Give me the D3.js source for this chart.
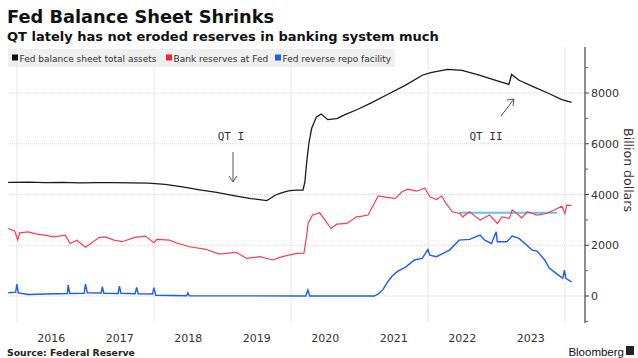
<!DOCTYPE html>
<html>
<head>
<meta charset="utf-8">
<title>Fed Balance Sheet Shrinks</title>
<script src="https://cdn.jsdelivr.net/npm/d3@7"></script>
<style>
  body { margin: 0; background: #fff; }
  svg { display: block; font-family: "DejaVu Sans", sans-serif; }
</style>
</head>
<body>
<div id="chart"></div>
<script>
// values, billion dollars
var assets = [
  ["2015-11-15", 4480], ["2016-03-01", 4490], ["2016-06-01", 4470], ["2016-09-01", 4480],
  ["2016-12-01", 4460], ["2017-03-01", 4470], ["2017-06-01", 4470], ["2017-09-01", 4460],
  ["2017-12-01", 4450], ["2018-03-01", 4400], ["2018-06-01", 4300], ["2018-09-01", 4180],
  ["2018-12-01", 4080], ["2019-03-01", 3960], ["2019-06-01", 3840], ["2019-08-25", 3760],
  ["2019-09-20", 3880], ["2019-10-10", 3980], ["2019-11-15", 4070], ["2019-12-25", 4150],
  ["2020-02-01", 4170], ["2020-03-05", 4170], ["2020-03-15", 4500], ["2020-03-25", 5300],
  ["2020-04-05", 6000], ["2020-04-20", 6600], ["2020-05-15", 7050], ["2020-06-10", 7170],
  ["2020-07-15", 6950], ["2020-09-01", 6990], ["2020-10-15", 7150], ["2020-12-20", 7350],
  ["2021-03-01", 7600], ["2021-06-01", 7950], ["2021-09-01", 8300], ["2021-12-01", 8700],
  ["2022-01-15", 8800], ["2022-04-15", 8930], ["2022-07-01", 8890], ["2022-10-01", 8700],
  ["2022-12-15", 8530], ["2023-03-08", 8340], ["2023-03-22", 8730], ["2023-05-01", 8500],
  ["2023-07-15", 8250], ["2023-10-01", 8000], ["2023-12-15", 7740], ["2024-02-05", 7630]
];

var reserves = [
  ["2015-11-15", 2660], ["2015-12-20", 2560], ["2016-01-05", 2200], ["2016-01-15", 2490],
  ["2016-03-01", 2530], ["2016-04-10", 2450], ["2016-05-25", 2400], ["2016-07-15", 2330],
  ["2016-09-15", 2400], ["2016-10-10", 2070], ["2016-11-15", 2200], ["2016-12-30", 1920],
  ["2017-01-15", 2000], ["2017-03-15", 2310], ["2017-04-15", 2330], ["2017-06-01", 2200],
  ["2017-07-15", 2140], ["2017-09-20", 2310], ["2017-11-15", 2360], ["2017-12-31", 2100],
  ["2018-01-15", 2230], ["2018-03-25", 2200], ["2018-05-01", 2090], ["2018-07-10", 1940],
  ["2018-10-05", 1840], ["2018-12-15", 1650], ["2019-03-15", 1720], ["2019-05-10", 1480],
  ["2019-07-20", 1550], ["2019-09-25", 1420], ["2019-11-15", 1550], ["2020-02-01", 1680],
  ["2020-03-10", 1690], ["2020-03-25", 2400], ["2020-04-01", 2860], ["2020-04-25", 3190],
  ["2020-06-01", 3280], ["2020-07-01", 2990], ["2020-08-01", 2660], ["2020-09-01", 2830],
  ["2020-10-25", 2860], ["2020-12-15", 3120], ["2021-01-15", 3150], ["2021-02-15", 3190],
  ["2021-03-15", 3580], ["2021-04-10", 3940], ["2021-05-25", 3890], ["2021-07-10", 3850],
  ["2021-08-15", 4110], ["2021-09-15", 4210], ["2021-11-01", 4130], ["2021-12-15", 4260],
  ["2022-01-10", 3910], ["2022-02-15", 3800], ["2022-03-15", 3940], ["2022-04-01", 3710],
  ["2022-05-10", 3320], ["2022-06-20", 3250], ["2022-07-05", 3120], ["2022-08-10", 3320],
  ["2022-10-05", 2990], ["2022-11-25", 3190], ["2023-01-05", 2860], ["2023-01-30", 3120],
  ["2023-03-10", 3060], ["2023-03-25", 3390], ["2023-04-20", 3250], ["2023-05-15", 3080],
  ["2023-06-15", 3320], ["2023-08-05", 3190], ["2023-09-25", 3250], ["2023-11-05", 3390],
  ["2023-12-15", 3540], ["2024-01-01", 3250], ["2024-01-10", 3580], ["2024-02-05", 3560]
];

var reverseRepo = [
  ["2015-11-15", 130], ["2015-12-25", 150], ["2015-12-31", 470], ["2016-01-08", 120],
  ["2016-03-01", 60], ["2016-06-01", 80], ["2016-09-25", 100], ["2016-09-30", 430],
  ["2016-10-08", 100], ["2016-12-24", 110], ["2016-12-31", 470], ["2017-01-10", 130],
  ["2017-03-25", 120], ["2017-03-31", 370], ["2017-04-08", 110], ["2017-06-23", 100],
  ["2017-06-30", 390], ["2017-07-08", 110], ["2017-09-22", 90], ["2017-09-30", 340],
  ["2017-10-08", 90], ["2017-12-24", 80], ["2017-12-31", 330], ["2018-01-10", 30],
  ["2018-06-24", 10], ["2018-06-30", 130], ["2018-07-08", 5], ["2019-06-01", 5],
  ["2020-03-20", 0], ["2020-03-31", 240], ["2020-04-10", 0], ["2021-03-20", 0],
  ["2021-04-10", 80], ["2021-05-05", 250], ["2021-05-25", 500], ["2021-06-20", 760],
  ["2021-07-20", 960], ["2021-09-05", 1150], ["2021-10-20", 1420], ["2021-12-01", 1480],
  ["2021-12-31", 1840], ["2022-01-10", 1610], ["2022-02-15", 1550], ["2022-04-25", 1810],
  ["2022-06-15", 2200], ["2022-08-10", 2230], ["2022-10-05", 2400], ["2022-10-30", 2200],
  ["2022-12-05", 2070], ["2022-12-30", 2530], ["2023-01-05", 2140], ["2023-02-25", 2140],
  ["2023-03-25", 2360], ["2023-05-01", 2270], ["2023-06-10", 2010], ["2023-07-10", 1810],
  ["2023-08-05", 1770], ["2023-09-15", 1420], ["2023-10-10", 1090], ["2023-11-15", 890],
  ["2023-12-20", 700], ["2023-12-29", 1020], ["2024-01-05", 700], ["2024-02-05", 560]
];

// flat reserves level drawn in light blue
var reservesLevel = [["2022-06-15", 3280], ["2023-11-20", 3280]];

var yearLabels = ["2016", "2017", "2018", "2019", "2020", "2021", "2022", "2023"];
var gridYears = ["2016", "2018", "2020", "2022", "2024"];
var yMajor = [0, 2000, 4000, 6000, 8000];
var yMinor = [-1000, 1000, 3000, 5000, 7000, 9000];

var legendItems = [
  {name: "Fed balance sheet total assets", color: "#111"},
  {name: "Bank reserves at Fed", color: "#ff1f2d"},
  {name: "Fed reverse repo facility", color: "#1a5cff"}
];

var W = 638, H = 358;
var parse = d3.timeParse("%Y-%m-%d");
var parseYear = d3.timeParse("%Y");

var x = d3.scaleTime()
  .domain([parseYear("2016"), parseYear("2024")])
  .range([17, 565]);
var y = d3.scaleLinear()
  .domain([0, 8000])
  .range([296, 93]);

var svg = d3.select("#chart").append("svg")
  .attr("width", W)
  .attr("height", H);

// titles
svg.append("text").attr("x", 7).attr("y", 23)
  .attr("font-size", 17.8).attr("font-weight", "bold").attr("fill", "#111")
  .text("Fed Balance Sheet Shrinks");
svg.append("text").attr("x", 7).attr("y", 41)
  .attr("font-size", 13).attr("font-weight", "bold").attr("fill", "#111")
  .text("QT lately has not eroded reserves in banking system much");

// grid
svg.append("g").selectAll("line").data(yMajor).enter().append("line")
  .attr("x1", 8).attr("x2", 585)
  .attr("y1", function(d){ return y(d); }).attr("y2", function(d){ return y(d); })
  .attr("stroke", "#d8d8d8").attr("stroke-dasharray", "1,1");
svg.append("g").selectAll("line").data(gridYears).enter().append("line")
  .attr("x1", function(d){ return x(parseYear(d)); }).attr("x2", function(d){ return x(parseYear(d)); })
  .attr("y1", 47).attr("y2", 322)
  .attr("stroke", "#e6e6e6");

// legend
svg.append("rect").attr("x", 8).attr("y", 49).attr("width", 387).attr("height", 18)
  .attr("fill", "#efefef");
var lx = [12, 166, 275];
var leg = svg.append("g").selectAll("g").data(legendItems).enter().append("g")
  .attr("transform", function(d, i){ return "translate(" + lx[i] + ",0)"; });
leg.append("rect").attr("x", 0).attr("y", 54.5).attr("width", 6).attr("height", 6)
  .attr("fill", function(d){ return d.color; });
leg.append("text").attr("x", 7.5).attr("y", 61.5)
  .attr("font-size", 9).attr("fill", "#333")
  .text(function(d){ return d.name; });

// y axis on the right
var yAxis = svg.append("g").attr("transform", "translate(585,0)");
yAxis.append("line").attr("y1", 47).attr("y2", 323).attr("stroke", "#444").attr("stroke-width", 1.2);
yAxis.selectAll(".maj").data(yMajor).enter().append("line")
  .attr("x1", 0).attr("x2", 4)
  .attr("y1", function(d){ return y(d); }).attr("y2", function(d){ return y(d); })
  .attr("stroke", "#444");
yAxis.selectAll(".min").data(yMinor).enter().append("line")
  .attr("x1", 0).attr("x2", 3)
  .attr("y1", function(d){ return y(d); }).attr("y2", function(d){ return y(d); })
  .attr("stroke", "#666");
yAxis.selectAll("text").data(yMajor).enter().append("text")
  .attr("x", 6).attr("y", function(d){ return y(d) + 4; })
  .attr("font-size", 11).attr("fill", "#333")
  .text(function(d){ return d; });
svg.append("text")
  .attr("transform", "translate(624,170) rotate(90)")
  .attr("text-anchor", "middle").attr("font-size", 12.5).attr("fill", "#333")
  .text("Billion dollars");

// x labels, centred mid-year
svg.append("g").selectAll("text").data(yearLabels).enter().append("text")
  .attr("x", function(d){ return x(parse(d + "-07-02")); })
  .attr("y", 342).attr("text-anchor", "middle")
  .attr("font-size", 11).attr("fill", "#333")
  .text(function(d){ return d; });

// series
var line = d3.line()
  .x(function(d){ return x(parse(d[0])); })
  .y(function(d){ return y(d[1]); });

svg.append("path").datum(reservesLevel).attr("d", line)
  .attr("fill", "none").attr("stroke", "#5ec4f5").attr("stroke-width", 2);
svg.append("path").datum(reverseRepo).attr("d", line)
  .attr("fill", "none").attr("stroke", legendItems[2].color).attr("stroke-width", 1.4);
svg.append("path").datum(reserves).attr("d", line)
  .attr("fill", "none").attr("stroke", "#ff3b4a").attr("stroke-width", 1.2);
svg.append("path").datum(assets).attr("d", line)
  .attr("fill", "none").attr("stroke", "#1a1a1a").attr("stroke-width", 1.3);

// annotations
var ann = svg.append("g").attr("font-family", "DejaVu Sans Mono, monospace").attr("font-size", 11).attr("fill", "#333");
ann.append("text").attr("x", 231).attr("y", 140).attr("text-anchor", "middle").text("QT I");
ann.append("text").attr("x", 486).attr("y", 140).attr("text-anchor", "middle").text("QT II");
var arrows = svg.append("g").attr("stroke", "#555").attr("fill", "none").attr("stroke-width", 1);
arrows.append("path").attr("d", "M233,152 L233,182 M229,176 L233,182 L237,176");
arrows.append("path").attr("d", "M501,116 L514,99 M507,100 L514,99 L513,106");

// footer
svg.append("text").attr("x", 7).attr("y", 356)
  .attr("font-size", 9.3).attr("font-weight", "bold").attr("fill", "#222")
  .text("Source:  Federal Reserve");
svg.append("text").attr("x", 624).attr("y", 356).attr("text-anchor", "end")
  .attr("font-family", "Liberation Sans, sans-serif").attr("font-size", 11.5).attr("fill", "#111")
  .text("Bloomberg");
svg.append("rect").attr("x", 626).attr("y", 346).attr("width", 8).attr("height", 9).attr("fill", "#222");
</script>
</body>
</html>
